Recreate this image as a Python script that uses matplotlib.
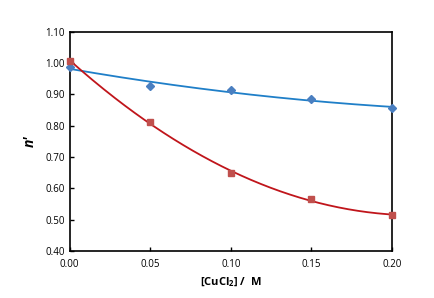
import numpy as np
from matplotlib import pyplot as plt

conc = [0.00, 0.05, 0.10, 0.15, 0.20]
n_blue = [0.988, 0.926, 0.915, 0.884, 0.857]
n_red = [1.008, 0.812, 0.648, 0.565, 0.515]

xticks = [0.00, 0.05, 0.10, 0.15, 0.20]
yticks = [0.40, 0.50, 0.60, 0.70, 0.80, 0.90, 1.00, 1.10]

plt.rcParams['font.family'] = ['Open Sans', 'DejaVu Sans']
plt.rcParams['mathtext.fontset'] = 'custom'
plt.rcParams['mathtext.bf'] = 'Open Sans:bold'
plt.rcParams['mathtext.rm'] = 'Open Sans'

fig = plt.figure(figsize=(4.35, 2.98), dpi=100)
ax = fig.add_axes([0.16, 0.158, 0.741, 0.735])

# 二次趋势线
xs = np.linspace(0, 0.2, 200)
pb = np.polyfit(conc, n_blue, 2)
pr = np.polyfit(conc, n_red, 2)
ax.plot(xs, np.polyval(pb, xs), color='#1f7fc8', lw=1.3, zorder=2)
ax.plot(xs, np.polyval(pr, xs), color='#c0151b', lw=1.3, zorder=2)

ax.plot(conc, n_blue, 'D', color='#4a7fc0', ms=4.2, zorder=3, clip_on=False)
ax.plot(conc, n_red, 's', color='#c0504d', ms=4.5, zorder=3, clip_on=False)

ax.set_xlim(0, 0.2)
ax.set_ylim(0.4, 1.1)
ax.set_xticks(xticks)
ax.set_yticks(yticks)
ax.set_xticklabels(['%.2f' % t for t in xticks])
ax.set_yticklabels(['%.2f' % t for t in yticks])
ax.tick_params(direction='in', length=3, width=1, labelsize=7, colors='black',
               top=False, right=False)
ax.tick_params(axis='x', pad=6)
for s in ax.spines.values():
    s.set_linewidth(1.2)

ax.set_xlabel('[CuCl$_\\mathbf{2}$] /  M', fontsize=8, fontweight='bold', labelpad=4)
ax.set_ylabel("n'", fontsize=10, fontweight='bold', style='italic', labelpad=6)

fig.savefig('out.png', dpi=100)
